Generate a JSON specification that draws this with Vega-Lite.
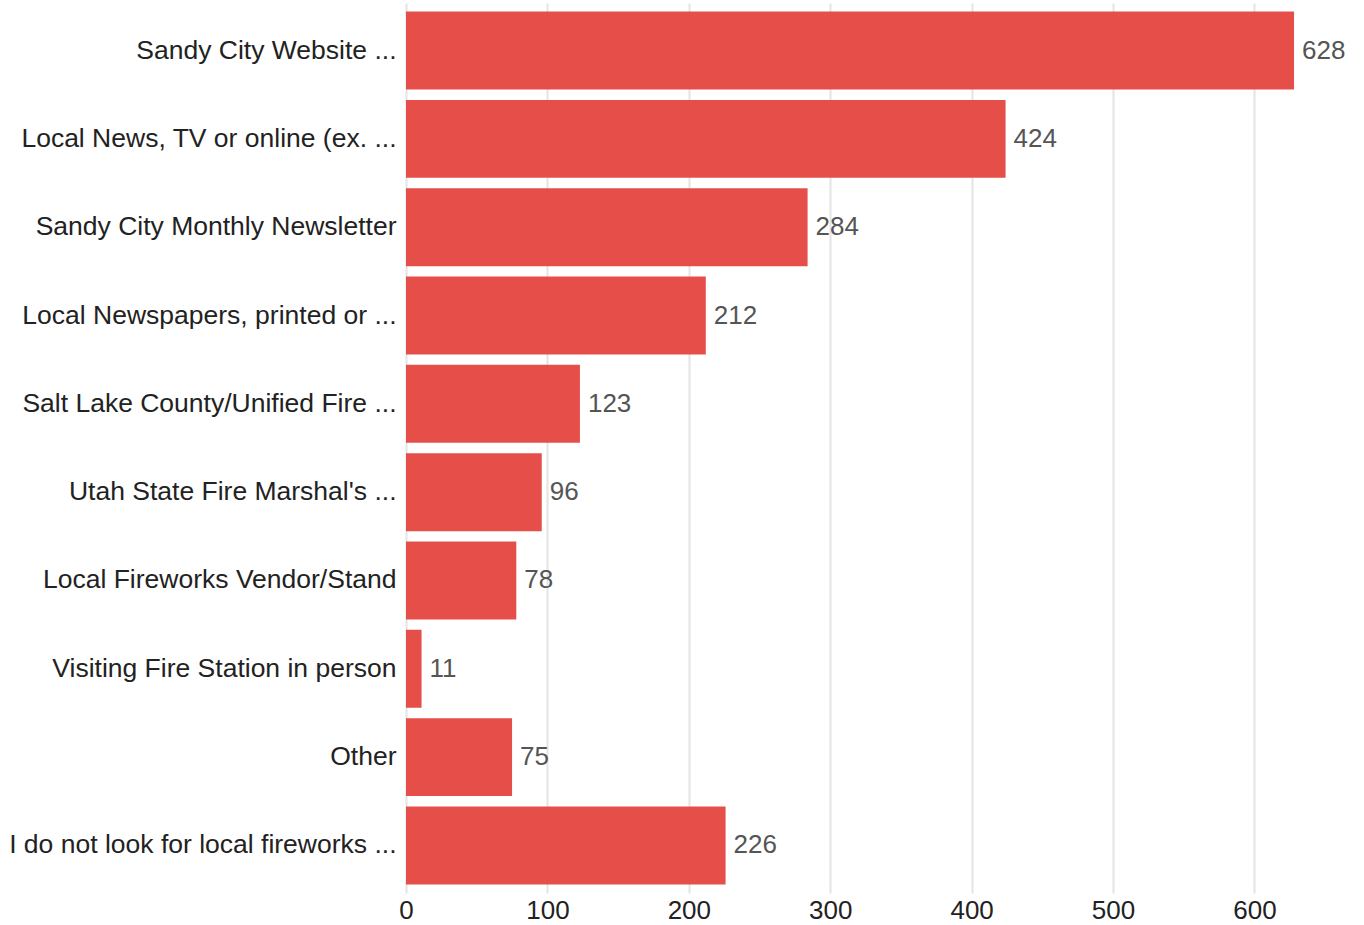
{
  "$schema": "https://vega.github.io/schema/vega-lite/v6.json",
  "width": 905,
  "height": 890,
  "autosize": "none",
  "padding": {"left": 406, "top": 3, "right": 53, "bottom": 32},
  "background": "white",
  "config": {"view": {"stroke": null}, "font": "Liberation Sans"},
  "data": {"values": [
    {"source": "Sandy City Website ...", "count": 628},
    {"source": "Local News, TV or online (ex. ...", "count": 424},
    {"source": "Sandy City Monthly Newsletter", "count": 284},
    {"source": "Local Newspapers, printed or ...", "count": 212},
    {"source": "Salt Lake County/Unified Fire ...", "count": 123},
    {"source": "Utah State Fire Marshal's ...", "count": 96},
    {"source": "Local Fireworks Vendor/Stand", "count": 78},
    {"source": "Visiting Fire Station in person", "count": 11},
    {"source": "Other", "count": 75},
    {"source": "I do not look for local fireworks ...", "count": 226}
  ]},
  "encoding": {
    "y": {"field": "source", "type": "nominal", "sort": null,
      "scale": {"paddingInner": 0.117, "paddingOuter": 0.097},
      "axis": {"title": null, "ticks": false, "domain": false, "labelFontSize": 26.5, "labelColor": "#222", "labelPadding": 10, "labelLimit": 420}},
    "x": {"field": "count", "type": "quantitative",
      "scale": {"domain": [0, 640], "nice": false},
      "axis": {"title": null, "values": [0,100,200,300,400,500,600], "ticks": false, "domain": false, "grid": true, "gridColor": "#e4e4e4", "gridWidth": 2, "labelFontSize": 26, "labelColor": "#222", "labelPadding": 4, "labelFlush": false}}
  },
  "layer": [
    {"mark": {"type": "bar", "color": "#e5453f", "opacity": 0.95}},
    {"mark": {"type": "text", "align": "left", "baseline": "middle", "dx": 8, "fontSize": 26, "color": "#555"},
     "encoding": {"text": {"field": "count", "type": "quantitative"}}}
  ]
}
